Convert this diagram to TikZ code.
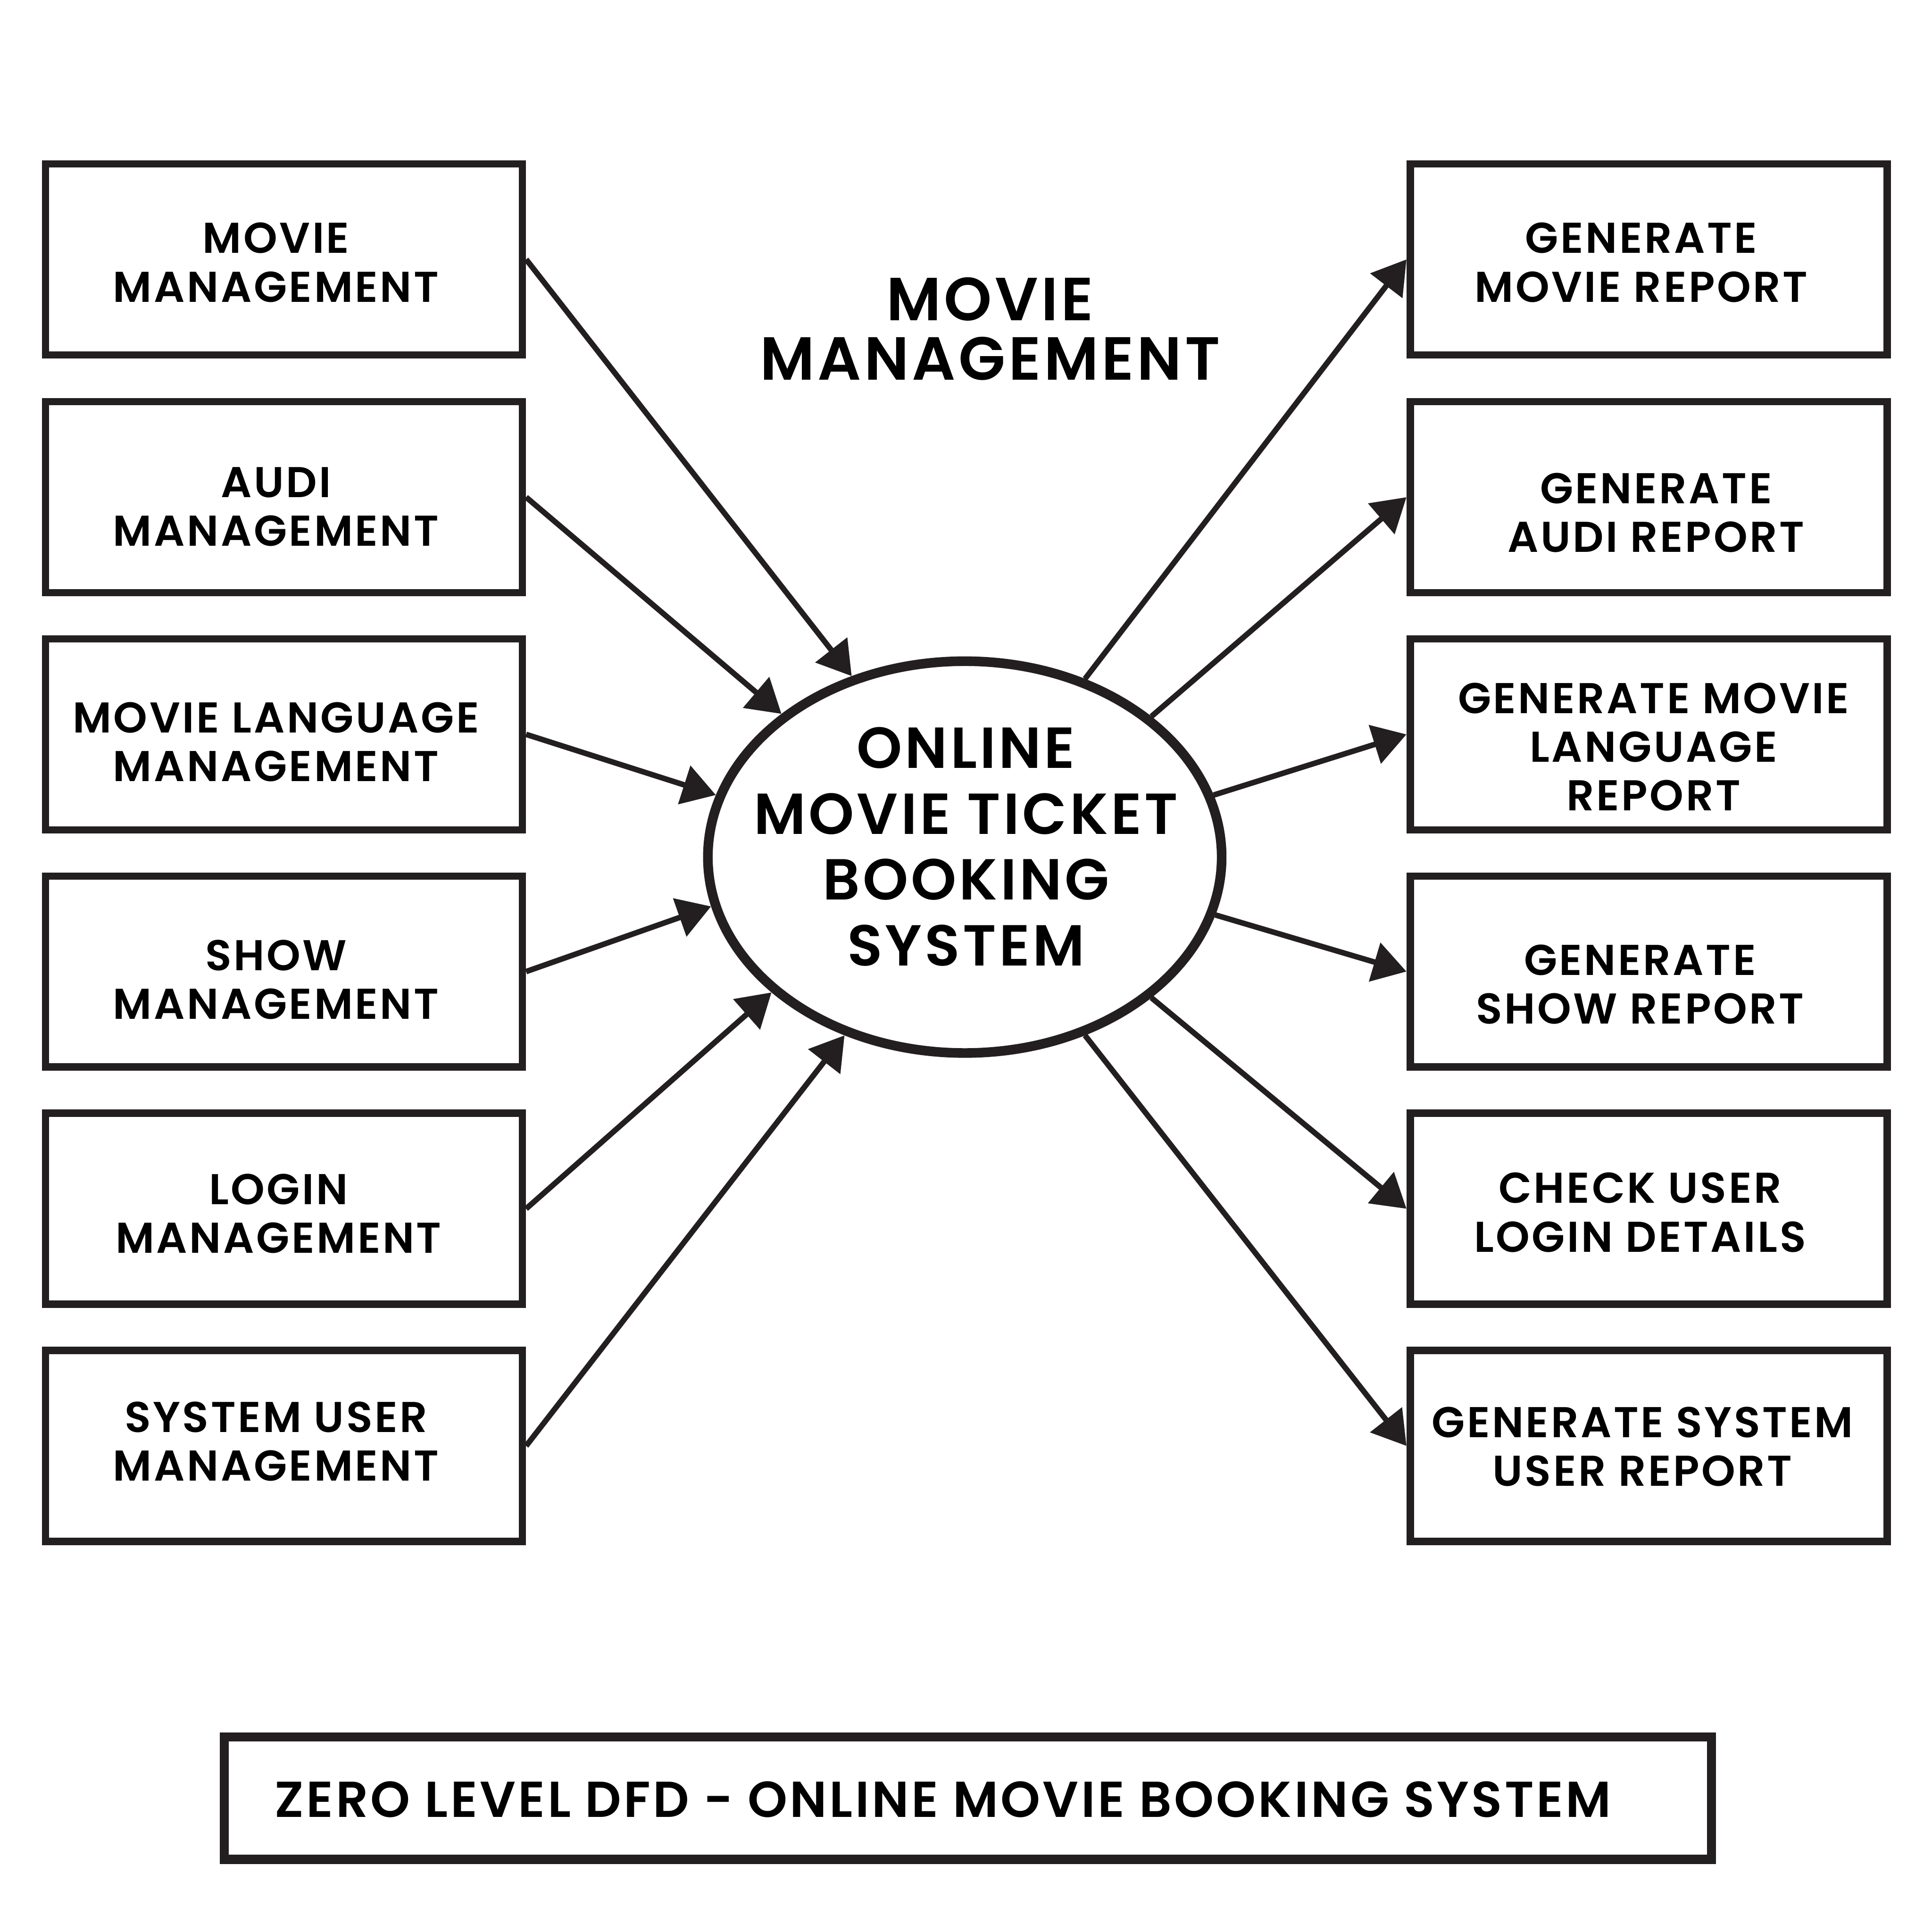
\documentclass[tikz,border=0pt]{standalone}
\usepackage{fontspec}
\setmainfont{Poppins}[BoldFont={Poppins SemiBold}, LetterSpace=5]
\usetikzlibrary{arrows.meta,shapes.geometric}
\definecolor{ink}{HTML}{231F20}
\begin{document}
\begin{tikzpicture}[x=0.1mm,y=-0.1mm,
  boxnode/.style={draw=ink, line width=0.6mm, minimum width=38.7mm, minimum height=15.5mm, inner sep=0pt},
  boxtxt/.style={font=\bfseries\fontsize{9.95pt}{11.24pt}\selectfont, align=center, inner sep=0pt, anchor=base},
  bigtxt/.style={font=\bfseries\fontsize{13.35pt}{15.2pt}\selectfont, align=center, inner sep=0pt, anchor=base},
  flow/.style={draw=ink, line width=0.45mm, -{Triangle[length=2.7mm,width=3.2mm]}}
]
\useasboundingbox[fill=white] (0,0) rectangle (1568,1568);

% left boxes
\node[boxnode] (l1) at (230.5,210.5) {};
\node[boxnode] (l2) at (230.5,403.5) {};
\node[boxnode] (l3) at (230.5,596) {};
\node[boxnode] (l4) at (230.5,788.5) {};
\node[boxnode] (l5) at (230.5,981) {};
\node[boxnode] (l6) at (230.5,1173.5) {};
% right boxes
\node[boxnode] (r1) at (1338,210.5) {};
\node[boxnode] (r2) at (1338,403.5) {};
\node[boxnode] (r3) at (1338,596) {};
\node[boxnode] (r4) at (1338,788.5) {};
\node[boxnode] (r5) at (1338,981) {};
\node[boxnode] (r6) at (1338,1173.5) {};

% box texts
\node[boxtxt] (tl1) at (224,245) {MOVIE\\MANAGEMENT};
\node[boxtxt] (tl2) at (224,443) {AUDI\\MANAGEMENT};
\node[boxtxt] (tl3) at (224,634) {MOVIE LANGUAGE\\MANAGEMENT};
\node[boxtxt] (tl4) at (224,827) {SHOW\\MANAGEMENT};
\node[boxtxt] (tl5) at (226,1017) {LOGIN\\MANAGEMENT};
\node[boxtxt] (tl6) at (224,1202) {SYSTEM USER\\MANAGEMENT};
\node[boxtxt] (tr1) at (1332,245) {GENERATE\\MOVIE REPORT};
\node[boxtxt] (tr2) at (1344,448) {GENERATE\\AUDI REPORT};
\node[boxtxt] (tr3) at (1342,658) {GENERATE MOVIE\\LANGUAGE\\REPORT};
\node[boxtxt] (tr4) at (1331,831) {GENERATE\\SHOW REPORT};
\node[boxtxt] (tr5) at (1331,1016) {CHECK USER\\LOGIN DETAILS};
\node[boxtxt] (tr6) at (1333,1206) {GENERATE SYSTEM\\USER REPORT};

% central process
\node[draw=ink, line width=0.78mm, ellipse, minimum width=41.7mm, minimum height=31.8mm, inner sep=0pt] (ell) at (783,695.6) {};
\node[bigtxt] (elltxt) at (784,783.7) {ONLINE\\MOVIE TICKET\\BOOKING\\SYSTEM};

% title
\node[bigtxt, font=\bfseries\fontsize{14.05pt}{13.66pt}\selectfont] (title) at (803.5,308.3) {MOVIE\\MANAGEMENT};

% bottom caption
\node[draw=ink, line width=0.74mm, minimum width=120.7mm, minimum height=9.92mm, inner sep=0pt] (cap) at (785.5,1459.4) {};
\node[font=\bfseries\fontsize{11.65pt}{14pt}\selectfont, inner sep=0pt, anchor=base west] (captxt) at (222.4,1474.6) {ZERO LEVEL DFD - ONLINE MOVIE BOOKING SYSTEM};

% flows in
\draw[flow] (l1.east) -- (ell.122.2);
\draw[flow] (l2.east) -- (ell.142.8);
\draw[flow] (l3.east) -- (ell.166.1);
\draw[flow] (l4.east) -- (ell.191.4);
\draw[flow] (l5.east) -- (ell.215.2);
\draw[flow] (l6.east) -- (ell.236.1);
% flows out
\draw[flow] (ell.56.8) -- (r1.west);
\draw[flow] (ell.37.1) -- (r2.west);
\draw[flow] (ell.14.3) -- (r3.west);
\draw[flow] (ell.347.9) -- (r4.west);
\draw[flow] (ell.323.4) -- (r5.west);
\draw[flow] (ell.304.7) -- (r6.west);
\end{tikzpicture}
\end{document}
